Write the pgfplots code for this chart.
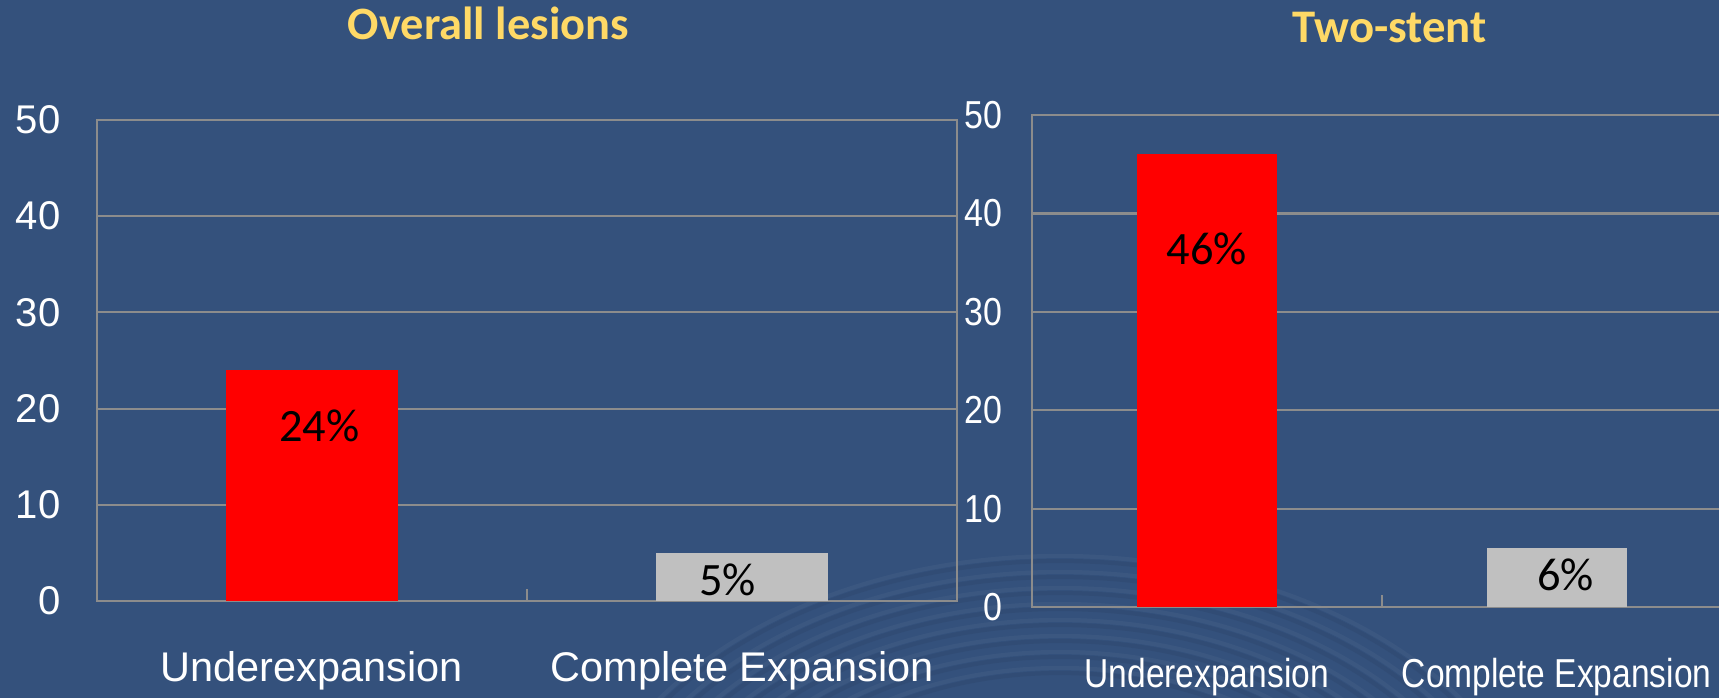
\documentclass[border=0pt]{standalone}
\usepackage{pgfplots}
\pgfplotsset{compat=1.18}
\usepackage{fontspec}
\setmainfont{Liberation Sans}
\newfontfamily\narrowA[FakeStretch=0.87]{Liberation Sans}
\newfontfamily\narrowB[FakeStretch=0.83]{Liberation Sans}
\newfontfamily\calfont{Carlito}
\definecolor{bg}{RGB}{52,81,124}
\definecolor{gridc}{RGB}{140,140,140}
\definecolor{barg}{RGB}{192,192,192}
\definecolor{ttl}{RGB}{255,217,102}
\pgfplotsset{
  mybase/.style={
    scale only axis, anchor=south west,
    ymin=0, ymax=50, ytick={0,10,20,30,40,50},
    xmin=-0.5, xmax=1.5, xtick={0,1},
    xticklabels={Underexpansion,Complete Expansion},
    xtick pos=left, ytick pos=left,
    major tick length=0pt,
    axis line style={gridc, line width=0.6pt},
    ymajorgrids, grid style={gridc, line width=0.6pt},
    extra x ticks={0.5}, extra x tick labels={},
    extra x tick style={major tick length=0.12cm, tick align=inside,
      tick style={gridc, line width=0.6pt}, grid=none},
    /pgf/number format/assume math mode=true,
    yticklabel style={anchor=east, inner sep=0pt, text=white},
    xticklabel style={anchor=base, inner sep=0pt, yshift=-0.80cm, text=white},
  }
}
\begin{document}
\begin{tikzpicture}
\clip (0,0) rectangle (17.19,6.98);
\fill[bg] (0,0) rectangle (17.19,6.98);
% faint background swirls
\begin{scope}[line width=1.2pt]
\foreach \r in {0,0.16,...,1.2} {
  \draw[bg!82!black, opacity=0.3] (10.6,-2.0) ellipse ({3.3+\r*1.4} and {2.25+\r});
  \draw[white, opacity=0.035] (10.6,-2.0) ellipse ({3.36+\r*1.4} and {2.3+\r});
}
\end{scope}
\node[anchor=base, text=ttl, inner sep=0pt, font=\calfont\bfseries\fontsize{13.2}{15}\selectfont] at (4.884,6.587) {Overall lesions};
\node[anchor=base, text=ttl, inner sep=0pt, font=\calfont\bfseries\fontsize{13.3}{15}\selectfont] at (13.897,6.557) {Two-stent};

\begin{axis}[mybase,
  at={(0.967cm,0.97cm)}, width=8.606cm, height=4.81cm,
  yticklabel style={xshift=-0.355cm, font=\fontsize{11.4}{12}\selectfont},
  xticklabel style={font=\fontsize{11.8}{13}\selectfont},
]
\addplot[ybar, bar width=0.4, fill=red, draw=none] coordinates {(0,24)};
\addplot[ybar, bar width=0.4, fill=barg, draw=none] coordinates {(1,5)};
\node[font=\calfont\fontsize{13.2}{15}\selectfont, text=black] at (axis cs:0.017,18.24) {24\%};
\node[font=\calfont\fontsize{13.2}{15}\selectfont, text=black] at (axis cs:0.966,2.18) {5\%};
\end{axis}

\begin{axis}[mybase,
  at={(10.317cm,0.907cm)}, width=7.0cm, height=4.923cm,
  yticklabel style={xshift=-0.29cm, font=\narrowA\fontsize{11.1}{12}\selectfont},
  xticklabel style={font=\narrowB\fontsize{11.5}{13}\selectfont},
]
\addplot[ybar, bar width=0.4, fill=red, draw=none] coordinates {(0,46)};
\addplot[ybar, bar width=0.4, fill=barg, draw=none] coordinates {(1,6)};
\node[font=\calfont\fontsize{13.2}{15}\selectfont, text=black] at (axis cs:0,36.4) {46\%};
\node[font=\calfont\fontsize{13.2}{15}\selectfont, text=black] at (axis cs:1.025,3.25) {6\%};
\end{axis}
\end{tikzpicture}
\end{document}
